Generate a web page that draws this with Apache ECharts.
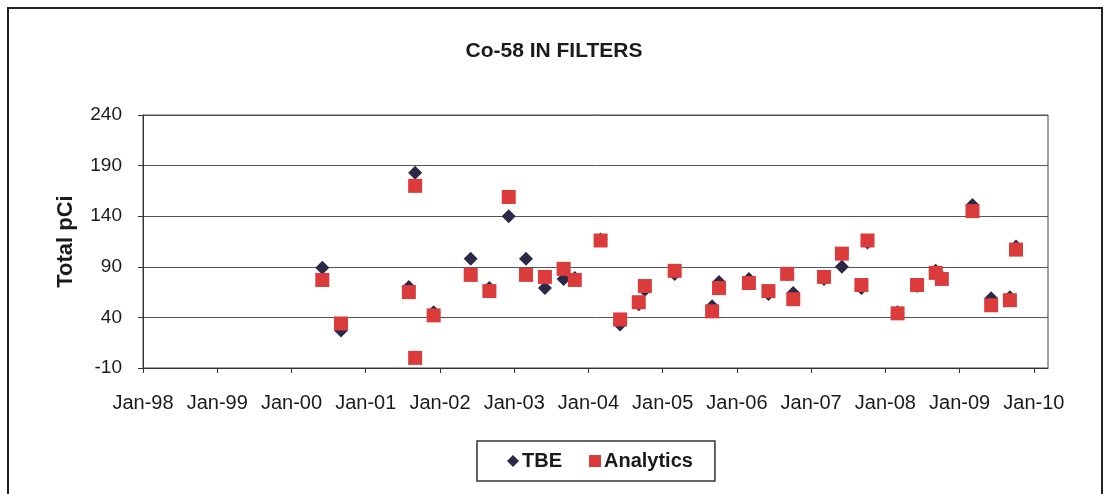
<!DOCTYPE html>
<html>
<head>
<meta charset="utf-8">
<script src="https://cdn.jsdelivr.net/npm/echarts@6/dist/echarts.min.js"></script>
<style>
html,body{margin:0;padding:0;background:#fff;}
#c{width:1108px;height:494px;}
</style>
</head>
<body>
<div id="c"></div>
<script>
// Sample dates
const tbeDates = ['2000-06-01','2000-09-01','2001-08-01','2001-09-01','2001-12-01','2002-06-01','2002-09-01','2002-12-05','2003-02-28','2003-06-01','2003-09-01','2003-10-26','2004-03-01','2004-06-05','2004-09-05','2004-10-05','2005-03-01','2005-09-01','2005-10-05','2006-03-01','2006-06-05','2006-09-05','2006-10-05','2007-03-05','2007-06-01','2007-09-05','2007-10-05','2008-03-01','2008-06-05','2008-09-05','2008-10-05','2009-03-05','2009-06-05','2009-09-05','2009-10-05'];
const tbeValues = [89,27,70,183,45,98,69,140,98,69,78,79,117,33,53,67,83,51,75,78,63,83,64,78,90,69,114,45,71,86,80,151,59,60,110];

const anaDates = ['2000-06-01','2000-09-01','2001-08-01','2001-09-01','2001-09-01','2001-12-01','2002-06-01','2002-09-01','2002-12-05','2003-02-28','2003-06-01','2003-09-01','2003-10-26','2004-03-01','2004-06-05','2004-09-05','2004-10-05','2005-03-01','2005-09-01','2005-10-05','2006-03-01','2006-06-05','2006-09-05','2006-10-05','2007-03-05','2007-06-01','2007-09-05','2007-10-05','2008-03-01','2008-06-05','2008-09-05','2008-10-05','2009-03-05','2009-06-05','2009-09-05','2009-10-05'];
const anaValues = [77,34,65,170,0,42,82,66,159,82,80,88,77,116,38,55,71,86,46,69,74,66,83,58,80,103,72,116,44,72,84,78,145,52,57,107];

const yTicks = [-10,40,90,140,190,240];
const xTickYears = [1998,1999,2000,2001,2002,2003,2004,2005,2006,2007,2008,2009,2010];
const xMin = 1998, xMax = 2010.19;

function decYear(s){
  const p = s.split('-').map(Number);
  const y = p[0];
  const start = Date.UTC(y,0,1), end = Date.UTC(y+1,0,1);
  return y + (Date.UTC(y,p[1]-1,p[2]) - start)/(end-start);
}
const tbeData = tbeDates.map((d,i)=>[decYear(d), tbeValues[i]]);
const anaData = anaDates.map((d,i)=>[decYear(d), anaValues[i]]);

const FONT = "'Liberation Sans', Arial, sans-serif";
const chart = echarts.init(document.getElementById('c'), null, {renderer:'canvas'});
chart.setOption({
  animation:false,
  backgroundColor:'#fff',
  title:{
    text:'Co-58 IN FILTERS', left:'center', top:36,
    textStyle:{fontFamily:FONT, fontSize:21, fontWeight:'bold', color:'#1a1a1a'}
  },
  graphic:[{
    type:'rect', shape:{x:8, y:8, width:1094, height:520},
    style:{fill:'none', stroke:'#222', lineWidth:2}, silent:true, z:-1
  }],
  legend:{
    left:477, top:441,
    padding:[10,22,10,30],
    itemGap:27, itemWidth:12, itemHeight:12,
    borderColor:'#333', borderWidth:1.5,
    textStyle:{fontFamily:FONT, fontSize:20, fontWeight:'bold', color:'#1a1a1a', padding:[0,0,0,-2]},
    data:[{name:'TBE', icon:'diamond'},{name:'Analytics', icon:'rect'}]
  },
  grid:{left:143, right:60, top:115, bottom:126, show:true, borderColor:'#444', borderWidth:1, backgroundColor:'#fff', outerBoundsMode:'none', containLabel:false},
  xAxis:{
    type:'value', min:xMin, max:xMax,
    axisLine:{show:true, onZero:false, lineStyle:{color:'#333', width:1}},
    axisTick:{show:true, length:5, customValues:xTickYears, lineStyle:{color:'#333'}},
    axisLabel:{customValues:xTickYears, margin:25, fontFamily:FONT, fontSize:20, color:'#1a1a1a',
      formatter:v=>'Jan-'+String(Math.round(v)%100).padStart(2,'0')},
    splitLine:{show:false}
  },
  yAxis:{
    type:'value', min:-10, max:240,
    name:'Total pCi', nameLocation:'middle', nameGap:66,
    nameTextStyle:{fontFamily:FONT, fontSize:22, fontWeight:'bold', color:'#1a1a1a'},
    axisLine:{show:true, onZero:false, lineStyle:{color:'#333', width:1}},
    axisTick:{show:true, length:5, customValues:yTicks, lineStyle:{color:'#333'}},
    axisLabel:{customValues:yTicks, margin:21, fontFamily:FONT, fontSize:19, color:'#1a1a1a'},
    splitLine:{show:true, lineStyle:{color:'#555', width:1}}
  },
  series:[
    {name:'TBE', type:'scatter', symbol:'diamond', symbolSize:14, data:tbeData,
     itemStyle:{color:'#2b2848', opacity:1}},
    {name:'Analytics', type:'scatter', symbol:'rect', symbolSize:14, data:anaData,
     itemStyle:{color:'#db3b3b', opacity:1}}
  ]
});
</script>
</body>
</html>
